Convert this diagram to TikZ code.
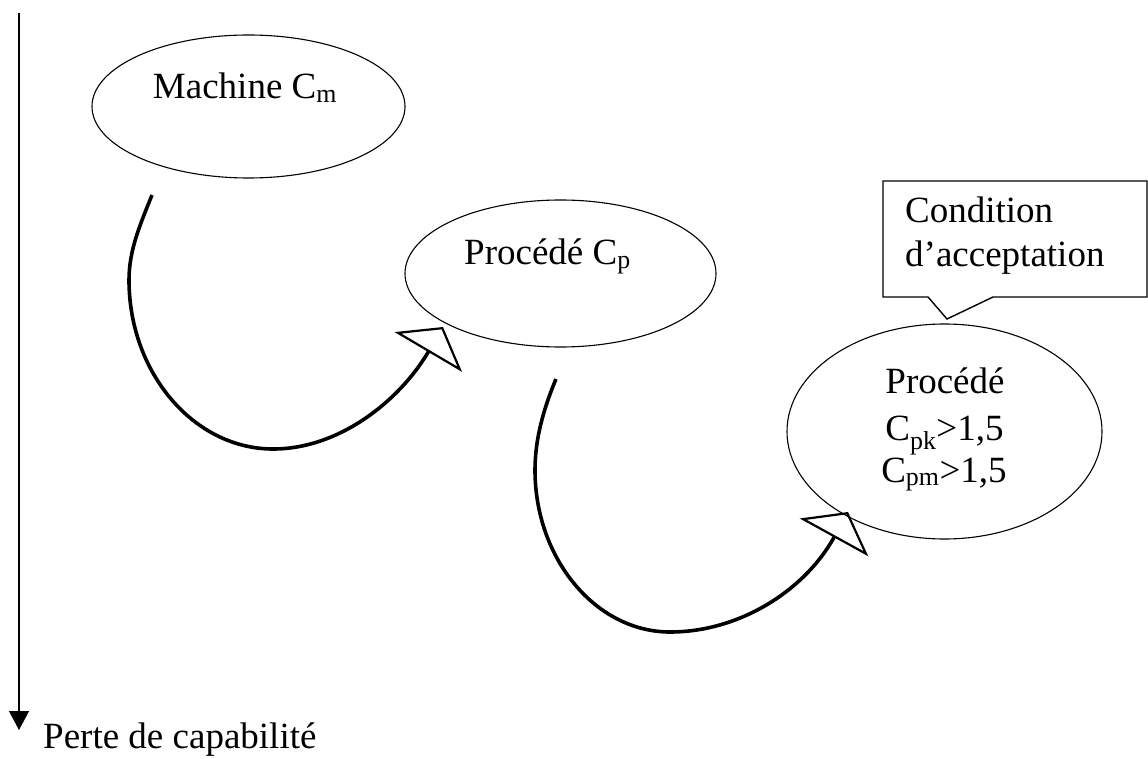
\documentclass[tikz,border=0pt]{standalone}
\usepackage{fontspec}
\setmainfont{Liberation Serif}
\usetikzlibrary{shapes.geometric,arrows.meta}

\tikzset{
  bubble/.style={draw, ellipse, inner sep=0pt, line width=1.1pt},
  label/.style={font=\fontsize{37}{44}\selectfont, inner sep=0pt},
  flow/.style={line width=3.6pt,
    -{Triangle[open, length=29pt, width=78pt, line width=2.2pt]}},
  axis/.style={line width=1.3pt, -{Triangle[length=19pt, width=20pt]}},
  callout/.style={draw, line width=1.4pt}
}

\begin{document}
\begin{tikzpicture}[x=1pt, y=-1pt]
  \useasboundingbox (0,0) rectangle (1148,759);

  % vertical axis: capability loss
  \coordinate (axtop) at (19,13);
  \coordinate (axend) at (19,730);
  \draw[axis] (axtop) -- (axend);
  \node[label, anchor=base west] (loss) at (43,748) {Perte de capabilité};

  % capability stages
  \node[bubble, minimum width=313pt, minimum height=143pt] (mach) at (248.5,106.5) {};
  \node[label, anchor=base] (machtxt) at (245,99) {Machine C\textsubscript{m}};

  \node[bubble, minimum width=311pt, minimum height=147pt] (proc) at (560.5,273.5) {};
  \node[label, anchor=base] (proctxt) at (547.5,265) {Procédé C\textsubscript{p}};

  \node[bubble, minimum width=315pt, minimum height=215pt] (accept) at (944.5,431.5) {};
  \node[label, anchor=base] (acc1) at (945,393) {Procédé};
  \node[label, anchor=base] (acc2) at (944.5,440) {C\textsubscript{pk}>1,5};
  \node[label, anchor=base] (acc3) at (944,482) {C\textsubscript{pm}>1,5};

  % curved transitions between stages
  \coordinate (s1) at (152,195);
  \coordinate (t1) at (443,327);
  \draw[flow] (s1) .. controls (140,225) and (129,250) .. (129,280)
                   .. controls (129,373) and (194,449) .. (273,449)
                   .. controls (340,449) and (400,400) .. (t1);

  \coordinate (s2) at (556,379);
  \coordinate (t2) at (848,512);
  \draw[flow] (s2) .. controls (543,410) and (535,440) .. (535,470)
                   .. controls (535,559) and (596,632) .. (670,632)
                   .. controls (740,632) and (805,590) .. (t2);

  % callout for the acceptance condition
  \draw[callout] (883,181) -- (1147,181) -- (1147,297) -- (993,297)
                 -- (947,319) -- (928,297) -- (883,297) -- cycle;
  \node[label, anchor=base west] (cond1) at (905,223) {Condition};
  \node[label, anchor=base west] (cond2) at (905,267) {d’acceptation};
\end{tikzpicture}
\end{document}
